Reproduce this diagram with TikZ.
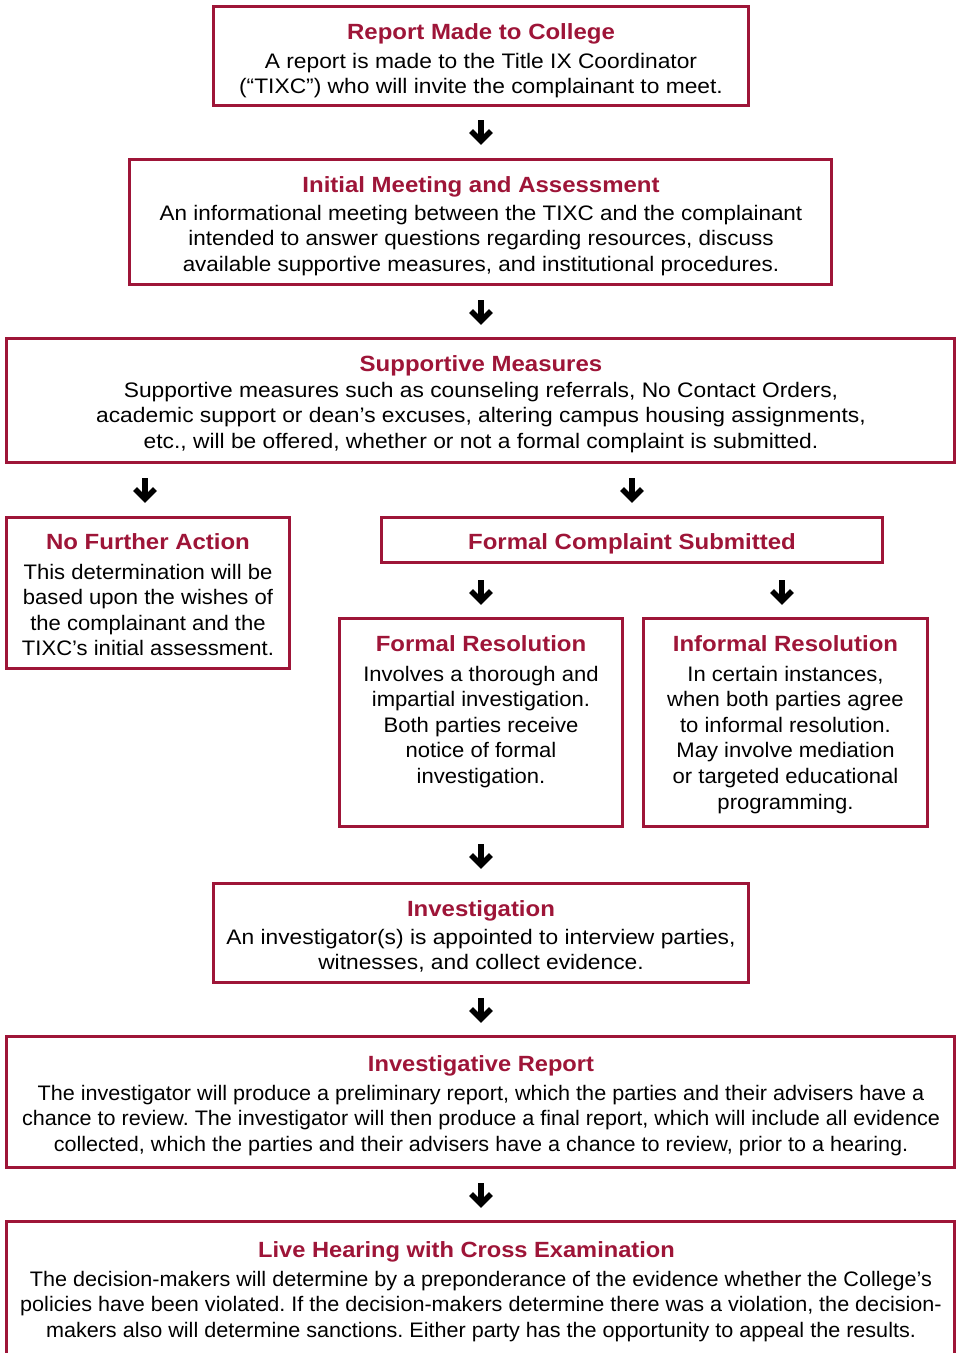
\documentclass[tikz,border=0pt]{standalone}
\usepackage{fontspec}
\setmainfont{Liberation Sans}
\newfontfamily\bodyA{Liberation Sans}[FakeStretch=1.085]
\newfontfamily\bodyB{Liberation Sans}[FakeStretch=1.05]
\newfontfamily\bodyC{Liberation Sans}[FakeStretch=1.028]
\newfontfamily\bodyD{Liberation Sans}[FakeStretch=1.069]
\newfontfamily\ttlA{Liberation Sans}[FakeStretch=1.09]
\newfontfamily\ttlB{Liberation Sans}[FakeStretch=1.075]
\frenchspacing
\usetikzlibrary{calc}
\definecolor{cred}{HTML}{9E1538}
\tikzset{
  box/.style={draw=cred, line width=3pt, inner sep=0pt, fill=white},
  ttl/.style={text=cred, font=\ttlA\fontsize{22}{26}\selectfont\bfseries, inner sep=0pt, anchor=base},
  ttlc/.style={ttl, font=\ttlB\fontsize{22}{26}\selectfont\bfseries},
  bdy/.style={text=black, font=\bodyA\fontsize{21}{25.6}\selectfont, align=center, inner sep=0pt, anchor=base},
  bdyn/.style={bdy, font=\bodyB\fontsize{21}{25.6}\selectfont},
  bdyc/.style={bdy, font=\bodyC\fontsize{21}{25.6}\selectfont},
  bdyd/.style={bdy, font=\bodyD\fontsize{21}{25.6}\selectfont},
  arrw/.style={draw=black, line width=5.5pt}
}
\newcommand{\darr}[3]{%
  \coordinate (#1t) at (#2,#3);
  \coordinate (#1b) at (#2,#3+21);
  \draw[arrw] (#1t) -- (#1b);
  \draw[arrw, line join=miter] ($(#1b)+(-10,-10)$) -- (#1b) -- ($(#1b)+(10,-10)$);
}
\begin{document}
\begin{tikzpicture}[x=1pt,y=-1pt]
\useasboundingbox (0,0) rectangle (961,1353);
\clip (0,0) rectangle (961,1353);
% boxes
\node[box, minimum width=535, minimum height=99] (report) at (481,56) {};
\node[box, minimum width=702, minimum height=125] (initial) at (480.5,222) {};
\node[box, minimum width=948, minimum height=124] (support) at (480.5,400.5) {};
\node[box, minimum width=283, minimum height=151] (nofurther) at (148,593) {};
\node[box, minimum width=501, minimum height=45] (formalc) at (632,540) {};
\node[box, minimum width=283, minimum height=208] (formalr) at (481,722.5) {};
\node[box, minimum width=284, minimum height=208] (informalr) at (785.5,722.5) {};
\node[box, minimum width=535, minimum height=99] (invest) at (481,933) {};
\node[box, minimum width=948, minimum height=131] (ireport) at (480.5,1102) {};
\node[box, minimum width=948, minimum height=160] (hearing) at (480.5,1301.5) {};
% titles
\node[ttl] (t1) at (481,39) {Report Made to College};
\node[ttl] (t2) at (481,192) {Initial Meeting and Assessment};
\node[ttl] (t3) at (481,371) {Supportive Measures};
\node[ttl] (t4) at (148,549) {No Further Action};
\node[ttl] (t5) at (632,549) {Formal Complaint Submitted};
\node[ttl] (t6) at (481,651) {Formal Resolution};
\node[ttl] (t7) at (785.5,651) {Informal Resolution};
\node[ttl] (t8) at (481,916) {Investigation};
\node[ttlc] (t9) at (481,1071) {Investigative Report};
\node[ttlc] (t10) at (466.5,1257) {Live Hearing with Cross Examination};
% bodies (anchor base = last line baseline)
\node[bdy] (b1) at (481,93.6) {A report is made to the Title IX Coordinator\\(“TIXC”) who will invite the complainant to meet.};
\node[bdyd] (b2) at (481,271.2) {An informational meeting between the TIXC and the complainant\\intended to answer questions regarding resources, discuss\\available supportive measures, and institutional procedures.};
\node[bdy] (b3) at (481,448.2) {Supportive measures such as counseling referrals, No Contact Orders,\\academic support or dean’s excuses, altering campus housing assignments,\\etc., will be offered, whether or not a formal complaint is submitted.};
\node[bdyn] (b4) at (148,655.8) {This determination will be\\based upon the wishes of\\the complainant and the\\TIXC’s initial assessment.};
\node[bdyn] (b6) at (481,783.4) {Involves a thorough and\\impartial investigation.\\Both parties receive\\notice of formal\\investigation.};
\node[bdyn] (b7) at (785.5,809) {In certain instances,\\when both parties agree\\to informal resolution.\\May involve mediation\\or targeted educational\\programming.};
\node[bdy] (b8) at (481,969.6) {An investigator(s) is appointed to interview parties,\\witnesses, and collect evidence.};
\node[bdyc] (b9) at (481,1151.2) {The investigator will produce a preliminary report, which the parties and their advisers have a\\chance to review. The investigator will then produce a final report, which will include all evidence\\collected, which the parties and their advisers have a chance to review, prior to a hearing.};
\node[bdyc] (b10) at (481,1337.2) {The decision-makers will determine by a preponderance of the evidence whether the College’s\\policies have been violated. If the decision-makers determine there was a violation, the decision-\\makers also will determine sanctions. Either party has the opportunity to appeal the results.};
% arrows
\darr{a1}{481}{120}
\darr{a2}{481}{300}
\darr{a3}{145}{478}
\darr{a4}{632}{478}
\darr{a5}{481}{580}
\darr{a6}{782}{580}
\darr{a7}{481}{844}
\darr{a8}{481}{998}
\darr{a9}{481}{1183}
\end{tikzpicture}
\end{document}
